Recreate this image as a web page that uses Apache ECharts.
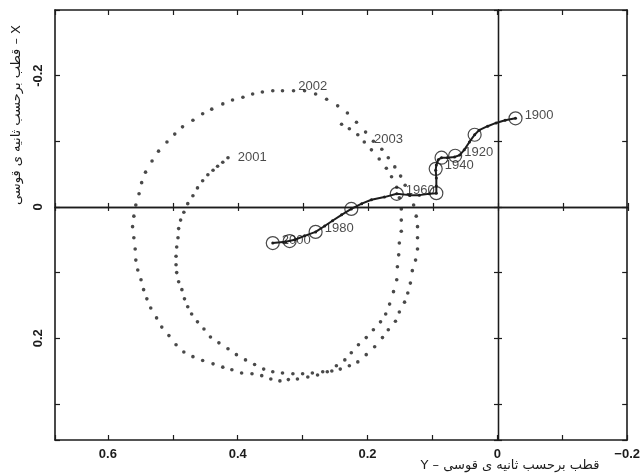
<!DOCTYPE html>
<html>
<head>
<meta charset="utf-8">
<script src="https://cdn.jsdelivr.net/npm/echarts@6/dist/echarts.min.js"></script>
<style>html,body{margin:0;padding:0;background:#fff}#c{width:643px;height:475px}</style>
</head>
<body>
<div id="c"></div>
<script>
// ---- data (values in arc-seconds) ----
const xTickLabels = [0.6, 0.4, 0.2, 0, -0.2];
const yTickLabels = [-0.2, 0, 0.2];
const xTitle = 'Y – قطب برحسب ثانیه ی قوسی';
const yTitle = 'قطب برحسب ثانیه ی قوسی – X';

// secular path 1900 -> 2000
const secX = [-0.028,-0.012,0.002,0.015,0.028,0.035,0.043,0.051,0.058,0.066,0.077,0.086,0.091,0.094,0.095,0.094,0.094,0.094,0.105,0.120,0.135,0.155,0.174,0.194,0.209,0.225,0.240,0.254,0.266,0.280,0.297,0.312,0.326,0.346];
const secY = [-0.135,-0.132,-0.128,-0.123,-0.117,-0.110,-0.099,-0.087,-0.079,-0.076,-0.075,-0.075,-0.072,-0.064,-0.056,-0.044,-0.032,-0.021,-0.020,-0.018,-0.018,-0.020,-0.015,-0.011,-0.005,0.003,0.012,0.021,0.029,0.038,0.044,0.050,0.053,0.055];

// decade markers
const circleYears = [1900,1910,1920,1930,1940,1950,1960,1970,1980,1990,2000];
const circleX = [-0.028,0.035,0.065,0.086,0.095,0.094,0.155,0.225,0.280,0.320,0.346];
const circleY = [-0.135,-0.110,-0.078,-0.075,-0.058,-0.021,-0.020,0.003,0.038,0.052,0.055];
const labeledYears = [1900,1920,1940,1960,1980,2000];

// pole path 2001 -> 2003
const spiralX = [0.415,0.423,0.431,0.438,0.446,0.454,0.462,0.469,0.477,0.483,0.488,0.491,0.492,0.494,0.495,0.495,0.494,0.491,0.486,0.482,0.477,0.471,0.462,0.452,0.442,0.429,0.415,0.402,0.388,0.374,0.360,0.346,0.331,0.315,0.300,0.285,0.269,0.255,0.242,0.228,0.215,0.202,0.189,0.177,0.168,0.157,0.151,0.143,0.138,0.134,0.131,0.126,0.123,0.123,0.123,0.125,0.129,0.135,0.142,0.149,0.158,0.168,0.178,0.191,0.203,0.217,0.231,0.246,0.263,0.280,0.297,
0.314,0.331,0.346,0.362,0.377,0.392,0.408,0.423,0.440,0.454,0.469,0.485,0.497,0.509,0.522,0.532,0.542,0.548,0.552,0.557,0.560,0.562,0.560,0.558,0.557,0.554,0.549,0.545,0.540,0.534,0.525,0.517,0.506,0.495,0.483,0.469,0.454,0.438,0.423,0.409,0.394,0.378,0.363,0.349,0.335,0.322,0.308,0.292,0.277,0.262,0.248,0.235,0.225,0.214,0.202,0.191,0.180,0.172,0.166,0.160,0.155,0.154,0.152,0.151,0.148,0.148,0.148,0.151,0.155,0.163,0.171,0.182,0.194,0.205,0.215,0.228,0.240];
const spiralY = [-0.075,-0.068,-0.062,-0.056,-0.049,-0.040,-0.029,-0.017,-0.005,0.008,0.020,0.033,0.047,0.061,0.075,0.088,0.100,0.114,0.126,0.140,0.152,0.163,0.175,0.186,0.198,0.207,0.216,0.225,0.233,0.240,0.247,0.251,0.253,0.254,0.254,0.253,0.251,0.250,0.247,0.242,0.236,0.225,0.213,0.199,0.187,0.174,0.160,0.145,0.131,0.116,0.097,0.081,0.064,0.047,0.030,0.014,-0.003,-0.018,-0.033,-0.047,-0.061,-0.075,-0.088,-0.100,-0.114,-0.129,-0.143,-0.154,-0.164,-0.172,-0.177,
-0.177,-0.177,-0.177,-0.175,-0.172,-0.167,-0.163,-0.157,-0.149,-0.142,-0.132,-0.122,-0.111,-0.099,-0.085,-0.070,-0.053,-0.037,-0.020,-0.003,0.014,0.030,0.047,0.064,0.081,0.096,0.111,0.126,0.140,0.154,0.169,0.183,0.196,0.210,0.221,0.228,0.234,0.239,0.244,0.248,0.253,0.254,0.257,0.262,0.265,0.263,0.262,0.259,0.256,0.251,0.242,0.233,0.222,0.210,0.199,0.187,0.175,0.163,0.148,0.129,0.111,0.091,0.073,0.055,0.037,0.020,0.003,-0.014,-0.030,-0.046,-0.059,-0.073,-0.087,-0.099,-0.110,-0.119,-0.126];
const spiralLabels = ['2001','2002','2003'];
const spiralLabelIdx = [0, 70, 144];

// ---- chart ----
const INK = '#1c1c1c';
const numFont = 'Liberation Sans, Arial, sans-serif';
const fmtX = v => {
  if (!xTickLabels.some(t => Math.abs(t - v) < 1e-6)) return '';
  const r = Math.round(v * 10) / 10;
  return r === 0 ? '0' : (r < 0 ? '\u2212' + Math.abs(r) : String(r));
};
const fmtY = v => {
  if (!yTickLabels.some(t => Math.abs(t - v) < 1e-6)) return '';
  const r = Math.round(v * 10) / 10;
  return r === 0 ? '0' : String(r);
};
const gridBox = {left: 55, right: 15, top: 10, bottom: 35};
const X_MIN = -0.2, X_MAX = 0.6815, Y_MIN = -0.3, Y_MAX = 0.355;

function xAx(grid, pos, opts) {
  return Object.assign({
    gridIndex: grid, type: 'value', position: pos, inverse: true,
    min: X_MIN, max: X_MAX, interval: 0.1,
    axisLine: {show: true, onZero: false, lineStyle: {color: INK, width: 1.6}},
    axisTick: {show: true, inside: true, length: 5, lineStyle: {color: INK, width: 1.2}},
    axisLabel: {show: false}, splitLine: {show: false}
  }, opts || {});
}
function yAx(grid, pos, opts) {
  return Object.assign({
    gridIndex: grid, type: 'value', position: pos, inverse: true,
    min: Y_MIN, max: Y_MAX, interval: 0.1,
    axisLine: {show: true, onZero: false, lineStyle: {color: INK, width: 1.6}},
    axisTick: {show: true, inside: true, length: 5, lineStyle: {color: INK, width: 1.2}},
    axisLabel: {show: false}, splitLine: {show: false}
  }, opts || {});
}
const zeroLine = {show: true, onZero: true, lineStyle: {color: INK, width: 1.3}};
const zeroTick = {show: true, inside: true, length: 4, lineStyle: {color: INK, width: 1.2}};

const spiralData = spiralX.map((x, i) => {
  const k = spiralLabelIdx.indexOf(i);
  const item = {value: [x, spiralY[i]]};
  if (k >= 0) {
    const offs = [[3, 0], [-13, -4], [3, -3]];
    item.label = {show: true, formatter: spiralLabels[k], position: 'right', offset: offs[k]};
  }
  return item;
});
const circleData = circleX.map((x, i) => {
  const item = {value: [x, circleY[i]]};
  if (labeledYears.includes(circleYears[i])) {
    item.label = {show: true, formatter: String(circleYears[i]), position: 'right', distance: 2, offset: [0, -3]};
  }
  return item;
});

const chart = echarts.init(document.getElementById('c'), null, {renderer: 'canvas'});
chart.setOption({
  animation: false,
  backgroundColor: '#ffffff',
  grid: [Object.assign({}, gridBox), Object.assign({}, gridBox)],
  xAxis: [
    xAx(0, 'bottom', {axisLabel: {show: true, formatter: fmtX, color: INK, fontFamily: numFont, fontWeight: 'bold', fontSize: 13, margin: 8}}),
    xAx(0, 'top'),
    xAx(1, 'bottom', {axisLine: zeroLine, axisTick: zeroTick}),
    xAx(1, 'top', {axisLine: zeroLine, axisTick: zeroTick})
  ],
  yAxis: [
    yAx(0, 'left', {axisLabel: {show: true, formatter: fmtY, rotate: 90, color: INK, fontFamily: numFont, fontWeight: 'bold', fontSize: 13, margin: 10}}),
    yAx(0, 'right'),
    yAx(1, 'left', {axisLine: zeroLine, axisTick: zeroTick}),
    yAx(1, 'right', {axisLine: zeroLine, axisTick: zeroTick})
  ],
  graphic: [
    {type: 'text', x: 510, y: 466, style: {text: xTitle, font: '13px "DejaVu Sans", sans-serif', fill: INK, textAlign: 'center', textVerticalAlign: 'middle'}},
    {type: 'text', x: 17, y: 115, rotation: Math.PI / 2, style: {text: yTitle, font: '13px "DejaVu Sans", sans-serif', fill: INK, textAlign: 'center', textVerticalAlign: 'middle'}}
  ],
  series: [
    {
      type: 'scatter', xAxisIndex: 0, yAxisIndex: 0, data: spiralData,
      symbol: 'circle', symbolSize: 3.6, itemStyle: {color: INK}, z: 3,
      label: {color: INK, fontFamily: numFont, fontSize: 13}
    },
    {
      type: 'line', xAxisIndex: 0, yAxisIndex: 0, data: secX.map((x, i) => [x, secY[i]]),
      symbol: 'circle', symbolSize: 3, showSymbol: true, itemStyle: {color: INK},
      lineStyle: {color: INK, width: 2}, z: 4
    },
    {
      type: 'scatter', xAxisIndex: 0, yAxisIndex: 0, data: circleData,
      symbol: 'circle', symbolSize: 13,
      itemStyle: {color: 'rgba(0,0,0,0)', borderColor: INK, borderWidth: 1.2}, z: 5,
      label: {color: INK, fontFamily: numFont, fontSize: 13}
    }
  ]
});
</script>
</body>
</html>
